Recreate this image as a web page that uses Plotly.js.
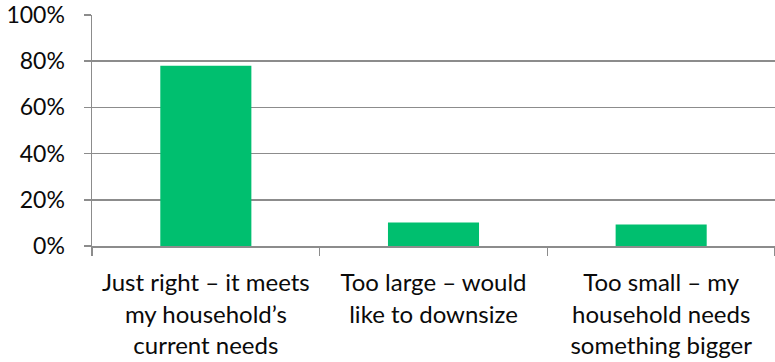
<!DOCTYPE html>
<html>
<head>
<meta charset="utf-8">
<script src="https://cdn.plot.ly/plotly-3.0.1.min.js"></script>
<style>html,body{margin:0;padding:0;background:#fff;}#chart{width:775px;height:362px;}</style>
</head>
<body>
<div id="chart"></div>
<script>
var categories = [
  "Just right – it meets<br>my household’s<br>current needs",
  "Too large – would<br>like to downsize",
  "Too small – my<br>household needs<br>something bigger"
];
var shares = [0.78, 0.102, 0.093];
var yTickValues = [0, 0.2, 0.4, 0.6, 0.8, 1.0];
var yTickLabels = ["0%", "20%", "40%", "60%", "80%", "100%"];

var trace = {
  type: "bar",
  x: categories,
  y: shares,
  marker: {color: "#00BF6F"},
  hoverinfo: "none"
};

var layout = {
  width: 775,
  height: 362,
  margin: {l: 92, r: 0, t: 15, b: 116, pad: 0},
  paper_bgcolor: "#ffffff",
  plot_bgcolor: "#ffffff",
  showlegend: false,
  bargap: 0.6,
  font: {family: "Lato, 'Open Sans', sans-serif", color: "#0a0a0a", size: 23},
  xaxis: {
    type: "category",
    tickson: "boundaries",
    ticks: "outside",
    ticklen: 8,
    tickwidth: 1.5,
    tickcolor: "#8c8c8c",
    showline: true,
    linecolor: "#8c8c8c",
    linewidth: 1.5,
    showgrid: false,
    zeroline: false,
    ticklabelstandoff: 15,
    tickfont: {size: 24, color: "#0a0a0a"},
    fixedrange: true
  },
  yaxis: {
    range: [0, 1.0],
    tickvals: yTickValues,
    ticktext: yTickLabels,
    ticks: "outside",
    ticklen: 7,
    tickwidth: 1.5,
    tickcolor: "#8c8c8c",
    showline: true,
    linecolor: "#8c8c8c",
    linewidth: 1.5,
    showgrid: true,
    gridcolor: "#8c8c8c",
    gridwidth: 1.5,
    zeroline: false,
    ticklabelstandoff: 14,
    tickfont: {size: 23, color: "#0a0a0a"},
    fixedrange: true
  }
};

Plotly.newPlot("chart", [trace], layout, {staticPlot: true, displayModeBar: false});
</script>
</body>
</html>
